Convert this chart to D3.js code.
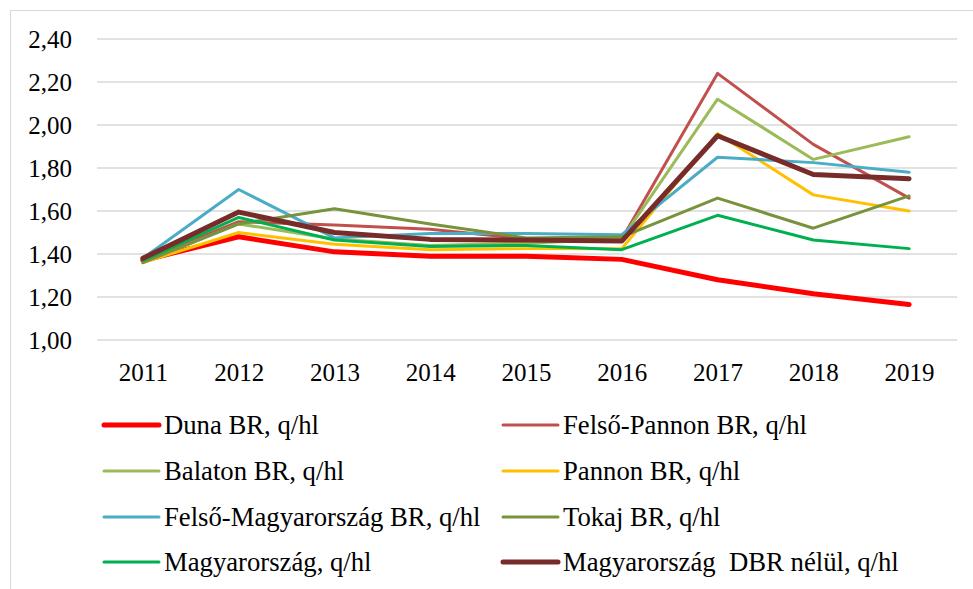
<!DOCTYPE html>
<html>
<head>
<meta charset="utf-8">
<script src="https://cdn.jsdelivr.net/npm/d3@7"></script>
</head>
<body style="margin:0">
<svg id="chart" width="973" height="589"></svg>
<script>
const years = ["2011","2012","2013","2014","2015","2016","2017","2018","2019"];
const yTicks = [1.00, 1.20, 1.40, 1.60, 1.80, 2.00, 2.20, 2.40];

const seriesNames = [
  "Duna BR, q/hl",
  "Felső-Pannon BR, q/hl",
  "Balaton BR, q/hl",
  "Pannon BR, q/hl",
  "Felső-Magyarország BR, q/hl",
  "Tokaj BR, q/hl",
  "Magyarország, q/hl",
  "Magyarország  DBR nélül, q/hl"
];
const seriesColors = ["#FF0000","#C0504D","#9BBB59","#FFC000","#4BACC6","#77933C","#00B050","#772C2A"];
const seriesWidths = [5, 3, 3, 3, 3, 3, 3, 5];

const duna        = [1.37, 1.48, 1.41, 1.39, 1.39, 1.375, 1.28, 1.215, 1.165];
const felsoPannon = [1.37, 1.55, 1.535, 1.515, 1.47, 1.47, 2.24, 1.91, 1.66];
const balaton     = [1.36, 1.54, 1.47, 1.44, 1.45, 1.47, 2.12, 1.84, 1.945];
const pannon      = [1.36, 1.50, 1.445, 1.42, 1.425, 1.425, 1.96, 1.675, 1.60];
const felsoMagyar = [1.38, 1.70, 1.475, 1.495, 1.495, 1.49, 1.85, 1.825, 1.78];
const tokaj       = [1.36, 1.54, 1.61, 1.54, 1.475, 1.48, 1.66, 1.52, 1.67];
const magyar      = [1.37, 1.57, 1.465, 1.435, 1.44, 1.42, 1.58, 1.465, 1.425];
const magyarDBR   = [1.38, 1.595, 1.50, 1.468, 1.465, 1.46, 1.95, 1.77, 1.75];

const seriesValues = [duna, felsoPannon, balaton, pannon, felsoMagyar, tokaj, magyar, magyarDBR];

const FONT = "Liberation Serif";
const svg = d3.select("#chart");

// outer chart border (light grey)
svg.append("rect")
  .attr("x", 10.5).attr("y", 10.5)
  .attr("width", 1000).attr("height", 1000)
  .attr("fill", "none").attr("stroke", "#d9d9d9").attr("stroke-width", 1);

const x = d3.scalePoint().domain(years).range([95, 957]).padding(0.5);
const y = d3.scaleLinear().domain([1.0, 2.4]).range([340, 39]);

// gridlines
svg.append("g").selectAll("line").data(yTicks).join("line")
  .attr("x1", 97).attr("x2", 957)
  .attr("y1", d => y(d)).attr("y2", d => y(d))
  .attr("stroke", "#d9d9d9").attr("stroke-width", 1.5);

// y axis labels
const fmt = d => d3.format(".2f")(d).replace(".", ",");
const yAxis = d3.axisLeft(y).tickValues(yTicks).tickFormat(fmt).tickSize(0).tickPadding(0);
const gy = svg.append("g").attr("transform", "translate(72,0)").call(yAxis);
gy.select(".domain").remove();
gy.style("font-family", FONT).style("font-size", "25px");
gy.selectAll("text")
  .style("font-family", FONT)
  .style("font-size", "25px").attr("fill", "#000").attr("dy", "0.34em");

// x axis labels
const xAxis = d3.axisBottom(x).tickSize(0).tickPadding(0);
const gx = svg.append("g").attr("transform", "translate(0,363)").call(xAxis);
gx.select(".domain").remove();
gx.style("font-family", FONT).style("font-size", "25px");
gx.selectAll("text")
  .style("font-family", FONT)
  .style("font-size", "25px").attr("fill", "#000").attr("dy", "0.71em");

// lines
const line = d3.line().x((d, i) => x(years[i])).y(d => y(d));
svg.append("g").selectAll("path").data(seriesValues).join("path")
  .attr("d", d => line(d))
  .attr("fill", "none")
  .attr("stroke", (d, i) => seriesColors[i])
  .attr("stroke-width", (d, i) => seriesWidths[i])
  .attr("stroke-linejoin", "round")
  .attr("stroke-linecap", "round");

// legend
const legX = [104, 503];
const legY = [425, 471, 517, 562];
const leg = svg.append("g").selectAll("g").data(seriesNames).join("g")
  .attr("transform", (d, i) => `translate(${legX[i % 2]},${legY[Math.floor(i / 2)]})`);
leg.append("line")
  .attr("x1", 0).attr("x2", 55).attr("y1", 0).attr("y2", 0)
  .attr("stroke", (d, i) => seriesColors[i])
  .attr("stroke-width", (d, i) => seriesWidths[i])
  .attr("stroke-linecap", "round");
leg.append("text")
  .attr("x", 60).attr("y", 0).attr("dy", "0.32em")
  .style("font-family", FONT)
  .style("font-size", "26.7px")
  .style("white-space", "pre")
  .attr("fill", "#000")
  .text(d => d);
</script>
</body>
</html>
